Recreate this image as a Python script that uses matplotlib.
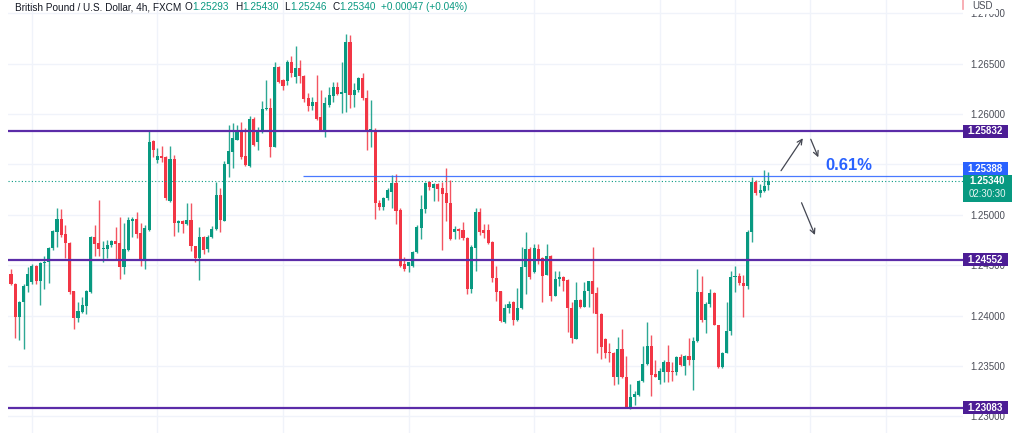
import matplotlib
matplotlib.use("Agg")
import matplotlib.pyplot as plt
import matplotlib.transforms as mtransforms
from matplotlib.patches import Rectangle
from matplotlib.lines import Line2D
import numpy as np

plt.rcParams['font.family'] = ['Liberation Sans', 'DejaVu Sans']

# ---------------- data (GBP/USD, 4h candles) ----------------
opens = [1.2441, 1.2431, 1.2399, 1.2413, 1.2429, 1.2433, 1.2449, 1.2434, 1.2452, 1.2453,
         1.2467, 1.2483, 1.2496, 1.2481, 1.2472, 1.2424, 1.2398, 1.2404, 1.2410, 1.2423,
         1.2478, 1.2472, 1.2466, 1.2466, 1.2470, 1.2474, 1.2472, 1.2448, 1.2465, 1.2494,
         1.2496, 1.2482, 1.2455, 1.2485, 1.2573, 1.2554, 1.2558, 1.2557, 1.2514, 1.2555,
         1.2492, 1.2494, 1.2491, 1.2495, 1.2469, 1.2457, 1.2478, 1.2466, 1.2478, 1.2486,
         1.2520, 1.2494, 1.2550, 1.2562, 1.2574, 1.2582, 1.2558, 1.2548, 1.2595, 1.2572,
         1.2584, 1.2605, 1.2606, 1.2567, 1.2647, 1.2634, 1.2633, 1.2652, 1.2637, 1.2646,
         1.2638, 1.2616, 1.2608, 1.2612, 1.2597, 1.2584, 1.2609, 1.2618, 1.2627, 1.2620,
         1.2621, 1.2672, 1.2619, 1.2624, 1.2636, 1.2616, 1.2582, 1.2584, 1.2512, 1.2508,
         1.2517, 1.2523, 1.2532, 1.2505, 1.2451, 1.2449, 1.2449, 1.2463, 1.2487, 1.2506,
         1.2533, 1.2527, 1.2531, 1.2527, 1.2522, 1.2512, 1.2483, 1.2486, 1.2485, 1.2477,
         1.2426, 1.2467, 1.2503, 1.2485, 1.2485, 1.2473, 1.2437, 1.2424, 1.2394, 1.2408,
         1.2413, 1.2396, 1.2408, 1.2448, 1.2466, 1.2443, 1.2466, 1.2457, 1.2440, 1.2459,
         1.2419, 1.2436, 1.2438, 1.2435, 1.2408, 1.2377, 1.2415, 1.2409, 1.2424, 1.2434,
         1.2422, 1.2402, 1.2377, 1.2364, 1.2363, 1.2339, 1.2367, 1.2339, 1.2308, 1.2319,
         1.2321, 1.2335, 1.2352, 1.2370, 1.2342, 1.2336, 1.2344, 1.2354, 1.2345, 1.2344,
         1.2359, 1.2350, 1.2360, 1.2356, 1.2375, 1.2423, 1.2396, 1.2412, 1.2422, 1.2391,
         1.2349, 1.2363, 1.2385, 1.2438, 1.2439, 1.2432, 1.2429, 1.2483, 1.2533, 1.2522,
         1.2524, 1.25293]
highs = [1.2446, 1.2432, 1.2414, 1.2431, 1.2448, 1.2451, 1.2450, 1.2453, 1.2459, 1.2468,
         1.2485, 1.2507, 1.2506, 1.2490, 1.2473, 1.2424, 1.2413, 1.2418, 1.2425, 1.2479,
         1.2490, 1.2515, 1.2474, 1.2475, 1.2475, 1.2488, 1.2498, 1.2492, 1.2498, 1.2498,
         1.2503, 1.2492, 1.2490, 1.2583, 1.2574, 1.2566, 1.2568, 1.2558, 1.2568, 1.2559,
         1.2495, 1.2495, 1.2512, 1.2512, 1.2469, 1.2488, 1.2479, 1.2480, 1.2489, 1.2533,
         1.2527, 1.2553, 1.2589, 1.2591, 1.2589, 1.2592, 1.2586, 1.2598, 1.2597, 1.2587,
         1.2613, 1.2634, 1.2616, 1.2652, 1.2648, 1.2635, 1.2654, 1.2658, 1.2668, 1.2654,
         1.2639, 1.2621, 1.2617, 1.2639, 1.2624, 1.2617, 1.2627, 1.2632, 1.2632, 1.2652,
         1.2679, 1.2678, 1.2631, 1.2637, 1.2641, 1.2624, 1.2614, 1.2586, 1.2515, 1.2518,
         1.2527, 1.2540, 1.2541, 1.2507, 1.2458, 1.2453, 1.2464, 1.2490, 1.2520, 1.2533,
         1.2534, 1.2532, 1.2532, 1.2533, 1.2546, 1.2535, 1.2489, 1.2487, 1.2493, 1.2478,
         1.2470, 1.2507, 1.2507, 1.2491, 1.2491, 1.2474, 1.2449, 1.2424, 1.2412, 1.2414,
         1.2414, 1.2427, 1.2468, 1.2483, 1.2468, 1.2471, 1.2471, 1.2458, 1.2471, 1.2460,
         1.2444, 1.2444, 1.2439, 1.2436, 1.2413, 1.2433, 1.2416, 1.2433, 1.2434, 1.2468,
         1.2428, 1.2403, 1.2378, 1.2373, 1.2364, 1.2379, 1.2387, 1.2360, 1.2332, 1.2325,
         1.2336, 1.2370, 1.2394, 1.2381, 1.2356, 1.2348, 1.2356, 1.2371, 1.2354, 1.2360,
         1.2362, 1.2361, 1.2378, 1.2379, 1.2446, 1.2439, 1.2413, 1.2426, 1.2423, 1.2391,
         1.2364, 1.2413, 1.2444, 1.2449, 1.2442, 1.2440, 1.2485, 1.2538, 1.2535, 1.2531,
         1.2544, 1.25430]
lows = [1.2430, 1.2378, 1.2376, 1.2367, 1.2423, 1.2431, 1.2431, 1.2411, 1.2426, 1.2432,
        1.2465, 1.2468, 1.2478, 1.2457, 1.2421, 1.2387, 1.2394, 1.2403, 1.2402, 1.2422,
        1.2459, 1.2459, 1.2453, 1.2457, 1.2468, 1.2456, 1.2436, 1.2441, 1.2464, 1.2478,
        1.2477, 1.2449, 1.2446, 1.2484, 1.2557, 1.2551, 1.2552, 1.2515, 1.2513, 1.2479,
        1.2483, 1.2482, 1.2490, 1.2464, 1.2453, 1.2435, 1.2461, 1.2463, 1.2477, 1.2485,
        1.2483, 1.2494, 1.2538, 1.2546, 1.2574, 1.2555, 1.2548, 1.2547, 1.2568, 1.2564,
        1.2581, 1.2604, 1.2557, 1.2567, 1.2631, 1.2624, 1.2629, 1.2637, 1.2631, 1.2631,
        1.2612, 1.2603, 1.2604, 1.2594, 1.2583, 1.2577, 1.2607, 1.2612, 1.2619, 1.2601,
        1.2602, 1.2606, 1.2607, 1.2622, 1.2614, 1.2564, 1.2567, 1.2496, 1.2505, 1.2505,
        1.2515, 1.2507, 1.2491, 1.2448, 1.2444, 1.2443, 1.2448, 1.2462, 1.2476, 1.2502,
        1.2525, 1.2514, 1.2514, 1.2465, 1.2494, 1.2475, 1.2476, 1.2476, 1.2475, 1.2421,
        1.2422, 1.2444, 1.2480, 1.2477, 1.2471, 1.2433, 1.2414, 1.2394, 1.2393, 1.2403,
        1.2391, 1.2395, 1.2407, 1.2421, 1.2436, 1.2442, 1.2451, 1.2413, 1.2440, 1.2414,
        1.2419, 1.2429, 1.2424, 1.2384, 1.2373, 1.2377, 1.2408, 1.2409, 1.2409, 1.2403,
        1.2363, 1.2357, 1.2358, 1.2354, 1.2331, 1.2332, 1.2338, 1.2308, 1.2307, 1.2311,
        1.2320, 1.2334, 1.2351, 1.2320, 1.2339, 1.2332, 1.2334, 1.2334, 1.2335, 1.2341,
        1.2350, 1.2341, 1.2351, 1.2326, 1.2374, 1.2394, 1.2383, 1.2409, 1.2391, 1.2348,
        1.2348, 1.2363, 1.2381, 1.2423, 1.2430, 1.2399, 1.2426, 1.2473, 1.2520, 1.2518,
        1.2523, 1.25246]
closes = [1.2431, 1.2399, 1.2413, 1.2429, 1.2441, 1.2449, 1.2434, 1.2452, 1.2453, 1.2467,
          1.2484, 1.2496, 1.2480, 1.2472, 1.2423, 1.2398, 1.2405, 1.2411, 1.2424, 1.2478,
          1.2471, 1.2466, 1.2467, 1.2470, 1.2474, 1.2471, 1.2448, 1.2466, 1.2495, 1.2496,
          1.2481, 1.2454, 1.2487, 1.2572, 1.2564, 1.2558, 1.2556, 1.2517, 1.2555, 1.2492,
          1.2494, 1.2491, 1.2495, 1.2469, 1.2457, 1.2478, 1.2465, 1.2478, 1.2486, 1.2520,
          1.2495, 1.2550, 1.2563, 1.2576, 1.2582, 1.2557, 1.2549, 1.2595, 1.2569, 1.2584,
          1.2605, 1.2606, 1.2567, 1.2647, 1.2632, 1.2628, 1.2652, 1.2641, 1.2646, 1.2638,
          1.2615, 1.2608, 1.2612, 1.2595, 1.2584, 1.2611, 1.2619, 1.2627, 1.2620, 1.2622,
          1.2672, 1.2619, 1.2624, 1.2636, 1.2616, 1.2582, 1.2585, 1.2512, 1.2508, 1.2517,
          1.2525, 1.2532, 1.2504, 1.2449, 1.2446, 1.2453, 1.2463, 1.2488, 1.2506, 1.2532,
          1.2528, 1.2531, 1.2526, 1.2521, 1.2512, 1.2476, 1.2486, 1.2484, 1.2477, 1.2426,
          1.2468, 1.2503, 1.2483, 1.2482, 1.2472, 1.2437, 1.2423, 1.2395, 1.2408, 1.2412,
          1.2396, 1.2408, 1.2448, 1.2466, 1.2438, 1.2467, 1.2454, 1.2439, 1.2459, 1.2419,
          1.2436, 1.2438, 1.2434, 1.2408, 1.2378, 1.2415, 1.2409, 1.2424, 1.2434, 1.2421,
          1.2402, 1.2369, 1.2363, 1.2363, 1.2339, 1.2367, 1.2339, 1.2308, 1.2319, 1.2322,
          1.2335, 1.2352, 1.2370, 1.2341, 1.2339, 1.2345, 1.2354, 1.2344, 1.2344, 1.2359,
          1.2351, 1.2360, 1.2356, 1.2375, 1.2423, 1.2396, 1.2412, 1.2422, 1.2391, 1.2349,
          1.2363, 1.2385, 1.2438, 1.2439, 1.2432, 1.2429, 1.2483, 1.2533, 1.2522, 1.2525,
          1.2529, 1.25340]

support_levels = [1.25832, 1.24552, 1.23083]
target_level = 1.25388
last_price = 1.25340
countdown = "02:30:30"
price_ticks = [1.230, 1.235, 1.240, 1.245, 1.250, 1.255, 1.260, 1.265, 1.270]
hidden_ticks = [1.255]  # covered by the price tags in the original
change_label = "0.61%"
title_name = "British Pound / U.S. Dollar, 4h, FXCM"
ohlc_labels = ["O", "H", "L", "C"]
ohlc_values = ["1.25293", "1.25430", "1.25246", "1.25340"]
change_text = "+0.00047 (+0.04%)"

# ---------------- style ----------------
GREEN = '#089981'
RED = '#F23645'
PURPLE = '#5B2CA8'
PURPLE_BOX = '#4C1D95'
BLUE = '#2962FF'
GRID = '#F0F3FA'
TXT = '#131722'
AXT = '#4A4D57'
W, H = 1024, 433

fig = plt.figure(figsize=(W / 100, H / 100), dpi=100)
fig.patch.set_facecolor('white')
ax = fig.add_axes([8 / W, 0, (963 - 8) / W, 1])

n = len(opens)
x = np.arange(n)
o = np.array(opens); c = np.array(closes); hi = np.array(highs); lo = np.array(lows)
up = c >= o
cols = np.where(up, GREEN, RED)

# scales
step = 4.185  # px per candle
ax.set_xlim((8 - 11) / step, (963 - 11) / step)
ppu = 10076.0
ax.set_ylim(1.25832 - (433 - 131) / ppu, 1.25832 + 131 / ppu)

# grid
vgrid = [5, 35, 65, 95, 125, 155, 173, 191, 209]
for g in vgrid:
    ax.axvline(g, color=GRID, lw=1.0, zorder=0)
for t in price_ticks:
    ax.axhline(t, color=GRID, lw=1.0, zorder=0)

# wicks and bodies
ax.vlines(x, lo, hi, colors=cols, lw=1.0, zorder=2, alpha=0.85)
body = np.where(np.abs(c - o) < 0.00008, 0.00008 * np.where(up, 1, -1), c - o)
ax.bar(x, body, bottom=o, width=0.74, color=cols, linewidth=0, zorder=3)

# horizontal levels
xmin, xmax = ax.get_xlim()
for lvl in support_levels:
    ax.hlines(lvl, xmin, xmax, color=PURPLE, lw=1.6, zorder=4)
ax.hlines(target_level, 69.8, xmax, color=BLUE, lw=0.9, alpha=0.85, zorder=4)
ax.hlines(last_price, xmin, xmax, color=GREEN, lw=0.8, linestyles=(0, (1, 2)), zorder=4)

# arrows and annotation
arrow_kw = dict(arrowstyle='->', color='#434651', lw=0.9, shrinkA=0, shrinkB=0,
                mutation_scale=9)
ax.annotate('', xy=(189.2, 1.25760), xytext=(184.0, 1.25438), arrowprops=arrow_kw, zorder=5)
ax.annotate('', xy=(192.9, 1.25571), xytext=(191.1, 1.25750), arrowprops=arrow_kw, zorder=5)
ax.annotate('', xy=(192.1, 1.24800), xytext=(188.9, 1.25120), arrowprops=arrow_kw, zorder=5)
ax.text(200.1, 1.25490, change_label, color=BLUE, fontsize=12, fontweight='bold',
        ha='center', va='center', zorder=5)

# axis styling
for s in ax.spines.values():
    s.set_visible(False)
ax.set_xticks([])
ax.yaxis.tick_right()
ax.set_yticks(price_ticks)
ax.set_yticklabels(["" if t in hidden_ticks else f"{t:.5f}" for t in price_ticks])
ax.tick_params(axis='y', length=0, pad=5, labelsize=7, labelcolor=AXT)

# price tags on the scale
bt = mtransforms.blended_transform_factory(fig.transFigure, ax.transData)


def tag(price, text, fc, width=45, height=13, sub=None, shift_px=0.0):
    yc = price + shift_px / ppu
    if sub is None:
        r = Rectangle((963 / W, yc - height / 2 / ppu), width / W, height / ppu,
                      transform=bt, facecolor=fc, edgecolor='none', clip_on=False, zorder=10)
        ax.add_patch(r)
        ax.text((963 + width / 2) / W, yc, text, transform=bt, color='white',
                fontsize=7, fontweight='bold', ha='center', va='center', clip_on=False, zorder=11)
    else:
        top = yc + 6 / ppu
        r = Rectangle((963 / W, top - 27 / ppu), width / W, 27 / ppu,
                      transform=bt, facecolor=fc, edgecolor='none', clip_on=False, zorder=10)
        ax.add_patch(r)
        ax.text((963 + width / 2) / W, yc - 0.5 / ppu, text, transform=bt, color='white',
                fontsize=7, fontweight='bold', ha='center', va='center', clip_on=False, zorder=11)
        ax.text((963 + width / 2) / W, yc - 13.5 / ppu, sub, transform=bt, color='#E6F5F2',
                fontsize=7, ha='center', va='center', clip_on=False, zorder=11)


for lvl in support_levels:
    tag(lvl, f"{lvl:.5f}", PURPLE_BOX)
tag(target_level, f"{target_level:.5f}", BLUE, shift_px=7.2)
tag(last_price, f"{last_price:.5f}", GREEN, width=49, sub=countdown)

# currency label over the top of the scale
fig.text(972 / W, 1 - 6 / H, "USD", fontsize=7, color=AXT, ha='left', va='center',
         bbox=dict(boxstyle='square,pad=0.35', fc='white', ec='none'), zorder=20)
fig.add_artist(Line2D([963 / W, 963 / W], [1 - 0 / H, 1 - 9 / H], color='#F7A1A8', lw=1.2))

# legend / title line
fs = 7.2
t = fig.text(15 / W, 1 - 12 / H, title_name, fontsize=fs, color=TXT, ha='left', va='bottom')
prev = t
for i, (lab, val) in enumerate(zip(ohlc_labels, ohlc_values)):
    gap = 3 if i == 0 else 6
    a = ax.annotate(lab, xy=(1, 0), xycoords=prev, xytext=(gap, 0), textcoords='offset pixels',
                    fontsize=fs, color=TXT, ha='left', va='bottom', annotation_clip=False)
    b = ax.annotate(val, xy=(1, 0), xycoords=a, xytext=(0, 0), textcoords='offset pixels',
                    fontsize=fs, color=GREEN, ha='left', va='bottom', annotation_clip=False)
    prev = b
ax.annotate(change_text, xy=(1, 0), xycoords=prev, xytext=(5, 0), textcoords='offset pixels',
            fontsize=fs, color=GREEN, ha='left', va='bottom', annotation_clip=False)

fig.savefig('out.png', dpi=100, facecolor='white')
